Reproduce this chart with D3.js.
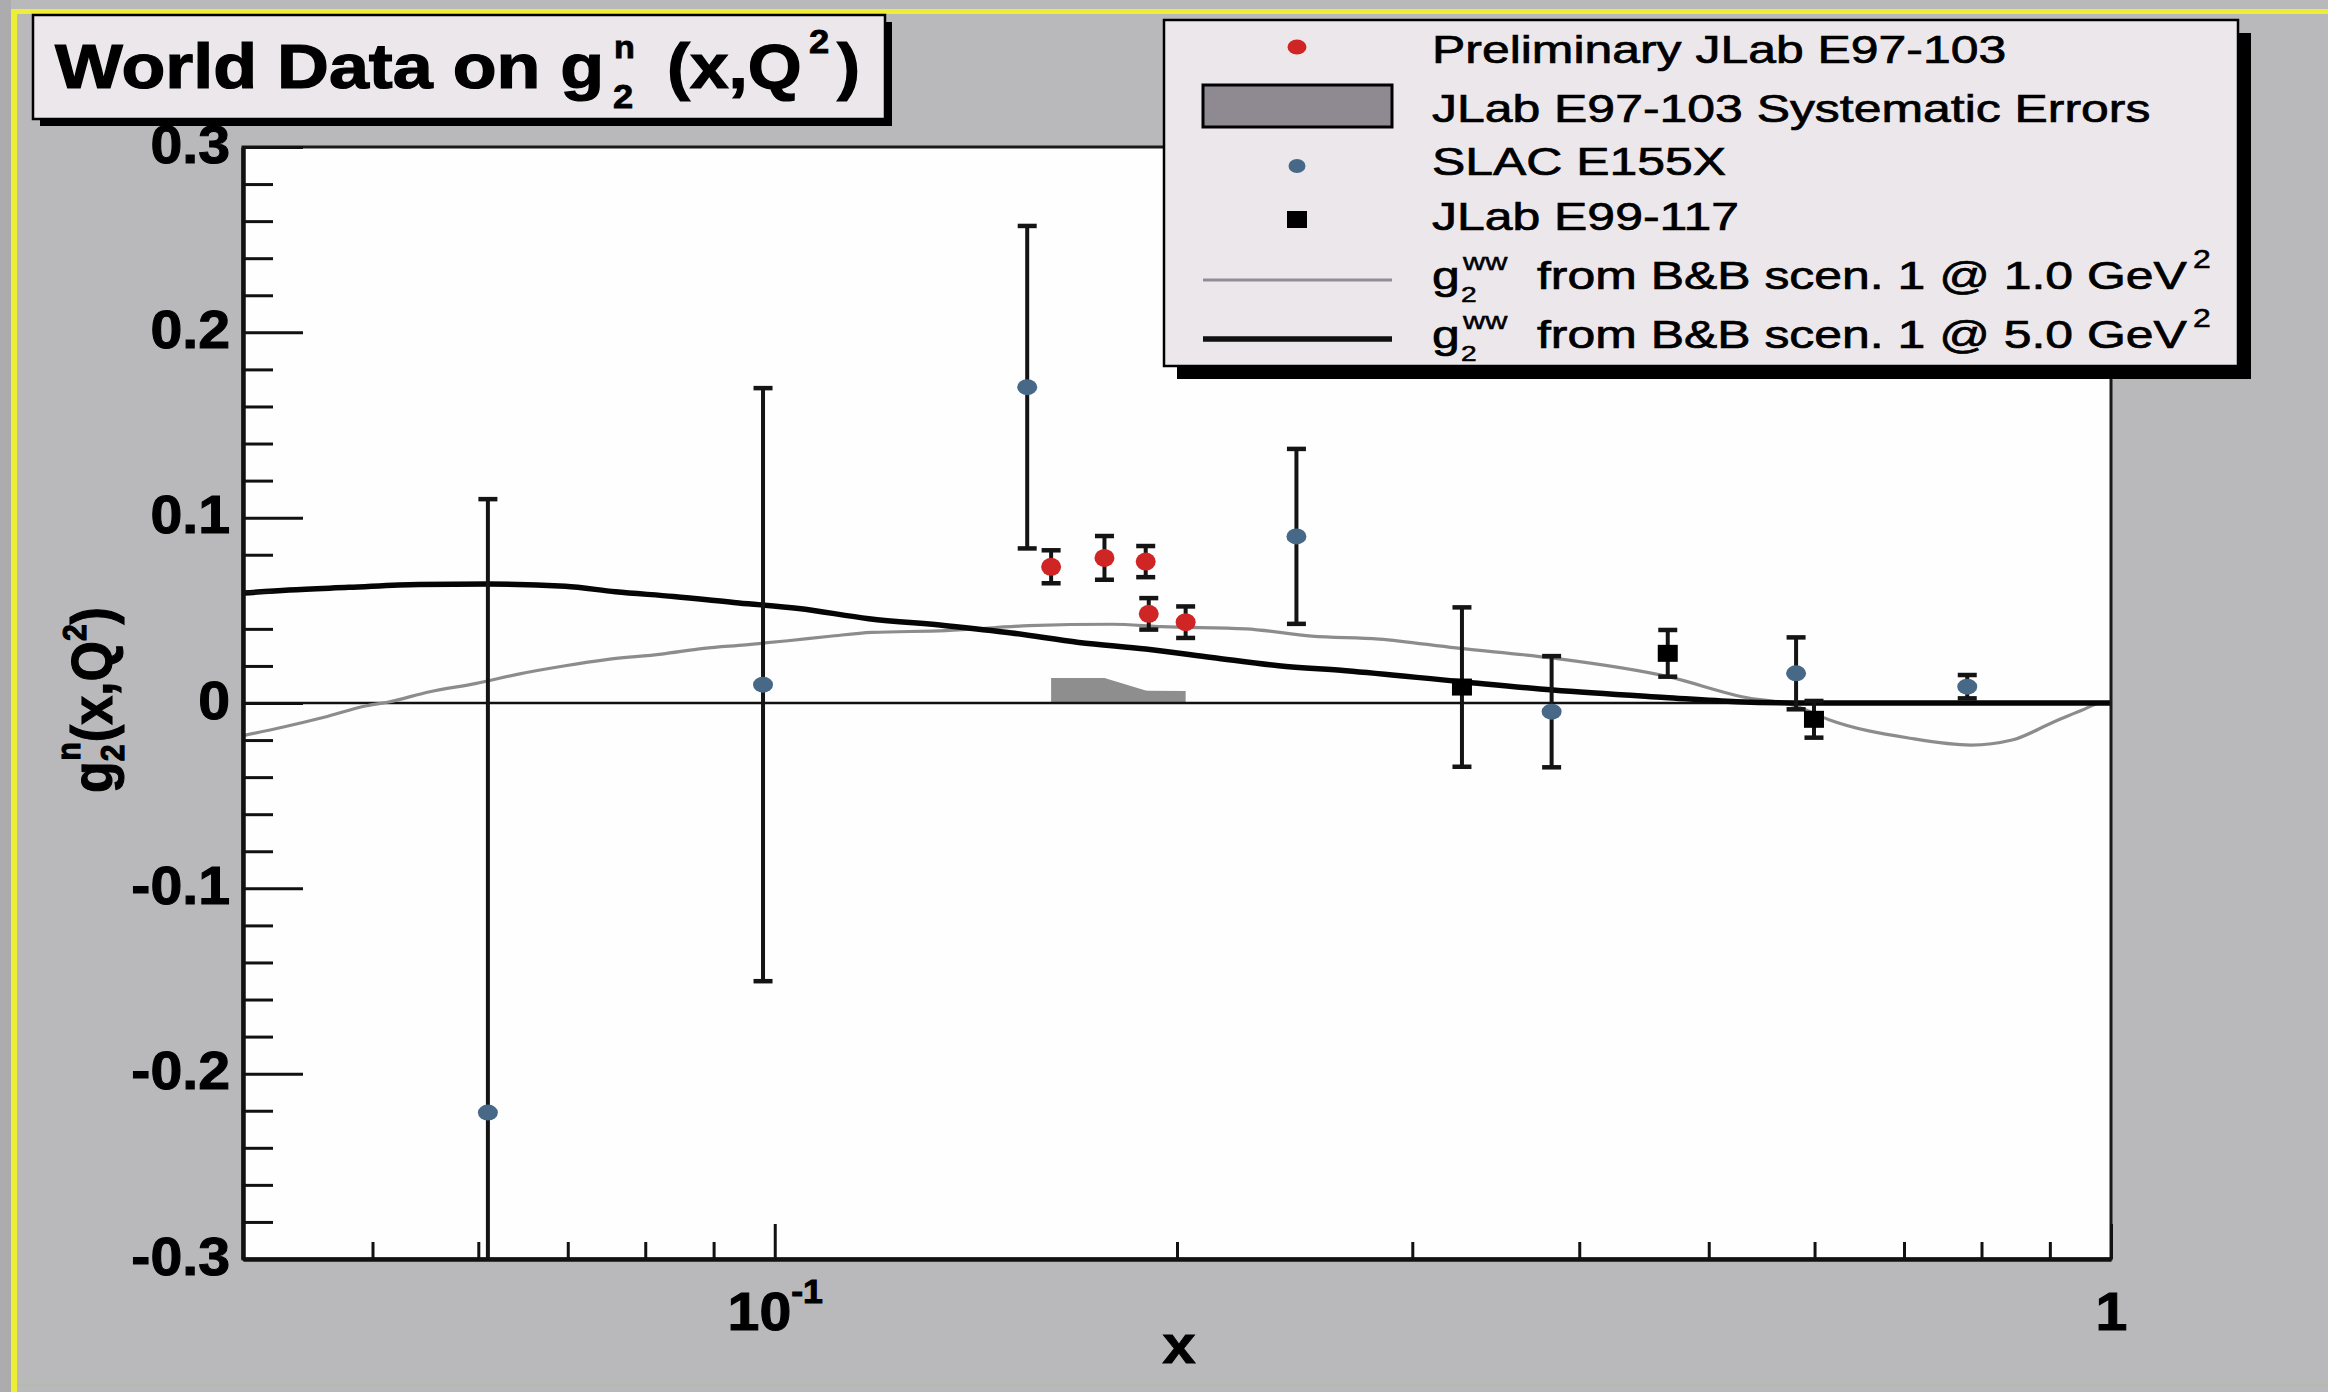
<!DOCTYPE html>
<html>
<head>
<meta charset="utf-8">
<script src="https://cdn.jsdelivr.net/npm/d3@7"></script>
<style>
  html, body { margin: 0; padding: 0; background: #b8b8bb; }
  svg { display: block; }
  text { font-family: "Liberation Sans", Arial, Helvetica, sans-serif; }
</style>
</head>
<body>
<svg id="chart" width="2328" height="1392"></svg>
<script>
// ---- Preliminary JLab E97-103 (statistical errors + systematic band) ----
const e97X   = [0.161, 0.1765, 0.1895, 0.1905, 0.203];
const e97Y   = [0.0735, 0.0783, 0.0763, 0.0481, 0.0436];
const e97Err = [0.0089, 0.0118, 0.0084, 0.0085, 0.0085];
const e97Sys = [0.0135, 0.0135, 0.0068, 0.0066, 0.0065];

// ---- SLAC E155X ----
const e155X   = [0.061, 0.098, 0.1545, 0.2457, 0.3814, 0.5812, 0.7806];
const e155Y   = [-0.221, 0.0099, 0.1704, 0.0899, -0.0047, 0.016, 0.0088];
const e155Err = [0.331, 0.160, 0.087, 0.0472, 0.030, 0.0194, 0.0063];

// ---- JLab E99-117 ----
const e99X   = [0.3268, 0.4659, 0.5994];
const e99Y   = [0.0086, 0.0268, -0.0088];
const e99Err = [0.043, 0.0126, 0.0099];

// ---- g2^WW from B&B scenario 1 at Q^2 = 1.0 GeV^2 ----
const ww1X = [0.04, 0.0428, 0.046, 0.0495, 0.0513, 0.0552, 0.0598, 0.0643, 0.0697, 0.0748,
              0.0823, 0.0885, 0.0951, 0.1023, 0.11, 0.1182, 0.1343, 0.1549, 0.1788, 0.1949,
              0.2252, 0.2523, 0.2833, 0.3234, 0.3815, 0.4661, 0.5294, 0.583, 0.6151, 0.7073,
              0.7856, 0.8432, 0.905, 0.95, 0.985, 1.0];
const ww1Y = [-0.0176, -0.0131, -0.0077, -0.0015, 0.0004, 0.0061, 0.0106, 0.0156, 0.0201, 0.0234,
              0.0264, 0.0295, 0.0314, 0.0336, 0.036, 0.0381, 0.039, 0.0417, 0.0425, 0.0412,
              0.040, 0.0361, 0.0345, 0.0297, 0.0243, 0.0142, 0.0034, -0.002, -0.009, -0.019,
              -0.0227, -0.020, -0.0104, -0.004, 0.0, 0.0];

// ---- g2^WW from B&B scenario 1 at Q^2 = 5.0 GeV^2 ----
const ww5X = [0.04, 0.0433, 0.048, 0.0541, 0.0611, 0.0697, 0.076, 0.084, 0.094, 0.1042,
              0.1176, 0.1343, 0.1504, 0.1689, 0.1895, 0.2124, 0.2383, 0.2676, 0.3263, 0.3823,
              0.4636, 0.5249, 0.5932, 0.7, 0.85, 1.0];
const ww5Y = [0.0593, 0.061, 0.0624, 0.064, 0.0642, 0.063, 0.060, 0.0575, 0.054, 0.051,
              0.0455, 0.0417, 0.0378, 0.0327, 0.0291, 0.0246, 0.0201, 0.0174, 0.0115, 0.007,
              0.003, 0.0007, 0.0, 0.0, 0.0, 0.0];

// ---- axis ticks ----
const yMajorTicks = [-0.3, -0.2, -0.1, 0, 0.1, 0.2, 0.3];
const yTickLabels = ["-0.3", "-0.2", "-0.1", "0", "0.1", "0.2", "0.3"];
const yMinorTicks = d3.range(-14, 15).map(i => i * 0.02).filter(v => Math.abs(Math.round(v * 10) - v * 10) > 1e-6);
const xMajorTicks = [0.1, 1];
const xMinorTicks = [0.05, 0.06, 0.07, 0.08, 0.09, 0.2, 0.3, 0.4, 0.5, 0.6, 0.7, 0.8, 0.9];

// ---- legend entries ----
const legendLabels = ["Preliminary JLab E97-103", "JLab E97-103 Systematic Errors", "SLAC E155X", "JLab E99-117"];
const legendCurveText = ["from B&B scen. 1 @ 1.0 GeV", "from B&B scen. 1 @ 5.0 GeV"];

// ---------------------------------------------------------------------
const W = 2328, H = 1392;
const svg = d3.select("#chart");
const plot = { left: 243, right: 2111, top: 147, bottom: 1259 };

const x = d3.scaleLog().domain([0.04, 1]).range([plot.left, plot.right]);
const y = d3.scaleLinear().domain([-0.3, 0.3]).range([plot.bottom, plot.top]);

const RED = "#d02525", BLUE = "#476887", BAR = "#141414";
const PANEL = "#ece7eb";
const FONT_SX = 1.28; // horizontal stretch of the legend lettering

function label(parent, s, tx, ty, size, opts = {}) {
  return parent.append("text")
    .attr("transform", `translate(${tx},${ty}) scale(${opts.sx || 1},1)`)
    .attr("font-size", size)
    .attr("font-weight", opts.bold ? "bold" : "normal")
    .attr("text-anchor", opts.anchor || "start")
    .attr("fill", opts.fill || "#000")
    .attr("stroke", opts.heavy ? "#000" : null)
    .attr("stroke-width", opts.heavy || null)
    .text(s);
}

// canvas
svg.append("rect").attr("width", W).attr("height", H).attr("fill", "#b9b9bc");
svg.append("rect").attr("x", 0).attr("y", 0).attr("width", 11).attr("height", H).attr("fill", "#acacae");
svg.append("rect").attr("x", 11).attr("y", 9).attr("width", 6).attr("height", H - 9).attr("fill", "#eeee36");
svg.append("rect").attr("x", 11).attr("y", 9).attr("width", W - 11).attr("height", 5).attr("fill", "#eeee36");
svg.append("rect").attr("x", 17).attr("y", 1384).attr("width", W - 17).attr("height", 2).attr("fill", "#b3bca8");

// plot area
svg.append("rect")
  .attr("x", plot.left).attr("y", plot.top)
  .attr("width", plot.right - plot.left).attr("height", plot.bottom - plot.top)
  .attr("fill", "#fefefe");

svg.append("clipPath").attr("id", "plotClip")
  .append("rect")
  .attr("x", plot.left).attr("y", plot.top)
  .attr("width", plot.right - plot.left).attr("height", plot.bottom - plot.top);

const g = svg.append("g").attr("clip-path", "url(#plotClip)");

// systematic error band
const sysData = e97X.map((v, i) => [v, e97Sys[i]]);
g.append("path")
  .datum(sysData)
  .attr("fill", "#8e8e8e")
  .attr("d", d3.area().x(d => x(d[0])).y0(y(0)).y1(d => y(d[1])));

// zero line
g.append("line")
  .attr("x1", x(0.04)).attr("x2", x(1))
  .attr("y1", y(0)).attr("y2", y(0))
  .attr("stroke", "#111").attr("stroke-width", 2.5);

// model curves
const curve = d3.line().x(d => x(d[0])).y(d => y(d[1])).curve(d3.curveMonotoneX);
g.append("path")
  .datum(ww1X.map((v, i) => [v, ww1Y[i]]))
  .attr("fill", "none").attr("stroke", "#8c8c8f").attr("stroke-width", 3.2)
  .attr("d", curve);
g.append("path")
  .datum(ww5X.map((v, i) => [v, ww5Y[i]]))
  .attr("fill", "none").attr("stroke", "#050505").attr("stroke-width", 5.5)
  .attr("d", curve);

// error bars
function errorBars(xs, ys, es) {
  const cap = 19;
  const grp = g.append("g").attr("stroke", BAR).attr("stroke-width", 4).attr("fill", "none");
  xs.forEach((v, i) => {
    const cx = x(v), y1 = y(ys[i] + es[i]), y0 = y(ys[i] - es[i]);
    grp.append("line").attr("x1", cx).attr("x2", cx).attr("y1", y1).attr("y2", y0);
    grp.append("line").attr("x1", cx - cap / 2).attr("x2", cx + cap / 2).attr("y1", y1).attr("y2", y1).attr("stroke-width", 4.5);
    grp.append("line").attr("x1", cx - cap / 2).attr("x2", cx + cap / 2).attr("y1", y0).attr("y2", y0).attr("stroke-width", 4.5);
  });
}
errorBars(e155X, e155Y, e155Err);
errorBars(e99X, e99Y, e99Err);
errorBars(e97X, e97Y, e97Err);

// markers
g.append("g").selectAll("ellipse").data(e155X).join("ellipse")
  .attr("cx", d => x(d)).attr("cy", (d, i) => y(e155Y[i]))
  .attr("rx", 10).attr("ry", 8).attr("fill", BLUE);
g.append("g").selectAll("rect").data(e99X).join("rect")
  .attr("x", d => x(d) - 10).attr("y", (d, i) => y(e99Y[i]) - 8.5)
  .attr("width", 20).attr("height", 17).attr("fill", "#000");
g.append("g").selectAll("ellipse").data(e97X).join("ellipse")
  .attr("cx", d => x(d)).attr("cy", (d, i) => y(e97Y[i]))
  .attr("rx", 10).attr("ry", 9).attr("fill", RED);

// frame
svg.append("rect")
  .attr("x", plot.left).attr("y", plot.top)
  .attr("width", plot.right - plot.left).attr("height", plot.bottom - plot.top)
  .attr("fill", "none").attr("stroke", "#1a1a1a").attr("stroke-width", 3);

// y axis: major and minor ticks pointing into the frame
const yAxisG = svg.append("g").attr("transform", `translate(${plot.left},0)`)
  .call(d3.axisLeft(y).tickValues(yMajorTicks).tickSizeInner(-60).tickSizeOuter(0).tickPadding(13)
    .tickFormat((d, i) => yTickLabels[i]));
yAxisG.select(".domain").attr("stroke", "#111").attr("stroke-width", 4.5);
yAxisG.selectAll(".tick line").attr("stroke", "#111").attr("stroke-width", 3);
yAxisG.selectAll(".tick text")
  .attr("x", null).attr("dy", null)
  .attr("transform", "translate(-13,15) scale(1.08,1)")
  .attr("font-size", 53).attr("font-weight", "bold")
  .attr("font-family", "Liberation Sans, Arial, sans-serif")
  .attr("fill", "#000").attr("stroke", "#000").attr("stroke-width", 1);

const yMinorG = svg.append("g").attr("transform", `translate(${plot.left},0)`)
  .call(d3.axisLeft(y).tickValues(yMinorTicks).tickSizeInner(-30).tickSizeOuter(0).tickFormat(""));
yMinorG.select(".domain").remove();
yMinorG.selectAll(".tick line").attr("stroke", "#111").attr("stroke-width", 3);

// x axis
const xAxisG = svg.append("g").attr("transform", `translate(0,${plot.bottom})`)
  .call(d3.axisBottom(x).tickValues(xMajorTicks).tickSizeInner(-35).tickSizeOuter(0).tickFormat(""));
xAxisG.select(".domain").attr("stroke", "#111").attr("stroke-width", 4.5);
xAxisG.selectAll(".tick line").attr("stroke", "#111").attr("stroke-width", 3);
xAxisG.selectAll(".tick").each(function (d) {
  const t = d3.select(this).append("text")
    .attr("transform", "translate(0,71) scale(1.08,1)")
    .attr("text-anchor", "middle")
    .attr("font-size", 53).attr("font-weight", "bold")
    .attr("font-family", "Liberation Sans, Arial, sans-serif")
    .attr("fill", "#000").attr("stroke", "#000").attr("stroke-width", 1);
  if (d === 1) {
    t.text("1");
  } else {
    t.append("tspan").text("10");
    t.append("tspan").attr("font-size", 33).attr("dy", -27).text("-1");
  }
});

const xMinorG = svg.append("g").attr("transform", `translate(0,${plot.bottom})`)
  .call(d3.axisBottom(x).tickValues(xMinorTicks).tickSizeInner(-17).tickSizeOuter(0).tickFormat(""));
xMinorG.select(".domain").remove();
xMinorG.selectAll(".tick line").attr("stroke", "#111").attr("stroke-width", 3);

// axis titles
label(svg, "x", 1179, 1363, 54, { bold: true, anchor: "middle", sx: 1.1, heavy: 1 });

const yt = svg.append("text")
  .attr("transform", "translate(112,700) rotate(-90) scale(1,1.1)")
  .attr("text-anchor", "middle")
  .attr("font-size", 52).attr("font-weight", "bold")
  .attr("stroke", "#000").attr("stroke-width", 1);
yt.append("tspan").text("g");
yt.append("tspan").attr("font-size", 30).attr("dy", 11).text("2");
yt.append("tspan").attr("font-size", 30).attr("dx", -16).attr("dy", -40).text("n");
yt.append("tspan").attr("dy", 29).text("(x,Q");
yt.append("tspan").attr("font-size", 30).attr("dy", -24).text("2");
yt.append("tspan").attr("dy", 24).text(")");

// title box
svg.append("rect").attr("x", 40).attr("y", 22).attr("width", 852).attr("height", 104).attr("fill", "#000");
svg.append("rect").attr("x", 33).attr("y", 15).attr("width", 852).attr("height", 104)
  .attr("fill", PANEL).attr("stroke", "#000").attr("stroke-width", 2.5);
label(svg, "World Data on g", 55, 88, 63, { bold: true, sx: 1.14, heavy: 1.2 });
label(svg, "2", 613, 108, 33, { bold: true, sx: 1.1, heavy: 0.8 });
label(svg, "n", 614, 58, 31, { bold: true, sx: 1.1, heavy: 0.8 });
label(svg, "(x,Q", 667, 88, 63, { bold: true, sx: 1.1, heavy: 1.2 });
label(svg, "2", 809, 53, 33, { bold: true, sx: 1.1, heavy: 0.8 });
label(svg, ")", 837, 88, 63, { bold: true, sx: 1.1, heavy: 1.2 });

// legend
const lg = svg.append("g");
lg.append("rect").attr("x", 1177).attr("y", 33).attr("width", 1074).attr("height", 346).attr("fill", "#000");
lg.append("rect").attr("x", 1164).attr("y", 20).attr("width", 1074).attr("height", 346)
  .attr("fill", PANEL).attr("stroke", "#000").attr("stroke-width", 2.5);

const LX = 1432;
const legendBase = [63, 122, 175, 230];
legendLabels.forEach((s, i) => label(lg, s, LX, legendBase[i], 39, { sx: FONT_SX, heavy: 0.7 }));

lg.append("ellipse").attr("cx", 1297).attr("cy", 47).attr("rx", 9.5).attr("ry", 7.5).attr("fill", RED);
lg.append("rect").attr("x", 1203).attr("y", 85).attr("width", 189).attr("height", 42)
  .attr("fill", "#8f8992").attr("stroke", "#000").attr("stroke-width", 3);
lg.append("ellipse").attr("cx", 1297).attr("cy", 166).attr("rx", 8.5).attr("ry", 7).attr("fill", BLUE);
lg.append("rect").attr("x", 1287).attr("y", 211).attr("width", 20).attr("height", 17).attr("fill", "#000");

// curve entries
const curveBase = [289, 348];
const curveStyle = [{ c: "#8f8d99", w: 3 }, { c: "#111", w: 5.5 }];
curveBase.forEach((b, i) => {
  lg.append("line").attr("x1", 1203).attr("x2", 1392).attr("y1", b - 9).attr("y2", b - 9)
    .attr("stroke", curveStyle[i].c).attr("stroke-width", curveStyle[i].w);
  label(lg, "g", LX, b, 39, { sx: FONT_SX, heavy: 0.7 });
  label(lg, "2", LX + 29, b + 13, 22, { sx: FONT_SX, heavy: 0.5 });
  label(lg, "ww", LX + 31, b - 19, 24, { sx: FONT_SX, heavy: 0.5 });
  label(lg, legendCurveText[i], 1537, b, 39, { sx: FONT_SX, heavy: 0.7 });
  label(lg, "2", 2193, b - 21, 25, { sx: FONT_SX, heavy: 0.5 });
});
</script>
</body>
</html>
